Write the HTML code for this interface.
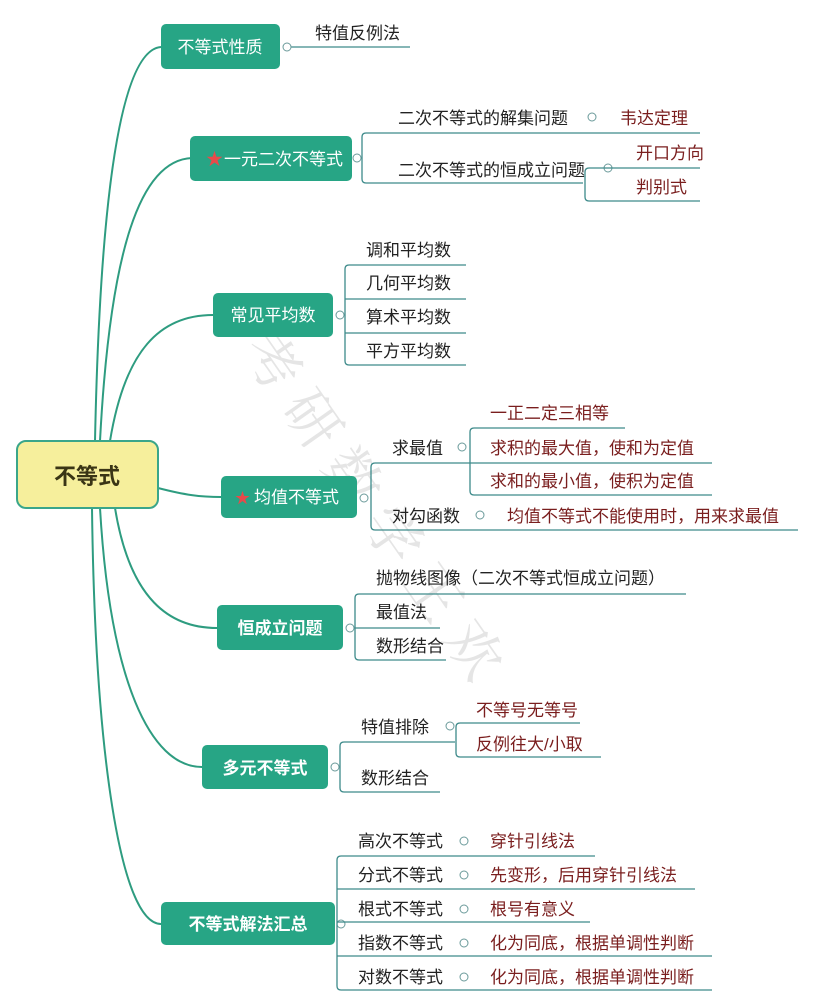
<!DOCTYPE html>
<html><head><meta charset="utf-8"><style>
body{margin:0;background:#fff}
svg{display:block}
text{font-family:"Liberation Sans","Noto Sans CJK SC",sans-serif;font-size:17px;fill:#222}
.w{fill:#fff}
.r{fill:#7a1e1e}
.b{font-weight:bold}
.l{stroke:#3d8a8a;stroke-width:1.3;fill:none}
.c{stroke:#2e9c80;stroke-width:2;fill:none}
.o{fill:#fff;stroke:#6a9a9a;stroke-width:1}
</style></head><body>
<svg width="816" height="1008" viewBox="0 0 816 1008">
<g opacity="0.5">
<text x="0" y="0" transform="translate(240,350) rotate(55)" style="font-size:56px;fill:#ccc;font-family:'Noto Serif CJK SC',serif">考 研 数 学 王 欢</text>
</g>
<path class="c" d="M95,441 C100,200 120,50 161,47"/>
<path class="c" d="M100,441 C110,250 140,160 192,158"/>
<path class="c" d="M110,441 C125,350 160,315 213,315"/>
<path class="c" d="M158,488 C185,495 200,497 221,497"/>
<path class="c" d="M115,508 C130,600 170,628 217,628"/>
<path class="c" d="M100,508 C110,680 150,767 202,767"/>
<path class="c" d="M92,508 C95,750 120,924 161,924"/>
<rect x="17" y="441" width="141" height="67" rx="9" fill="#f6ef9c" stroke="#3aa68a" stroke-width="2"/>
<text x="87" y="484" text-anchor="middle" class="b" style="font-size:22px;fill:#3a3515">不等式</text>

<rect x="161" y="24" width="119" height="45" rx="5" fill="#27a585"/>
<text x="220" y="53" text-anchor="middle" class="w">不等式性质</text>
<line class="l" x1="291" y1="47" x2="410" y2="47"/>
<circle class="o" cx="287" cy="47" r="4"/>
<text x="315" y="39">特值反例法</text>

<rect x="190" y="136" width="162" height="45" rx="5" fill="#27a585"/>
<text x="206" y="165" style="fill:#e84a4a">★</text>
<text x="224" y="165" class="w">一元二次不等式</text>
<circle class="o" cx="357" cy="158" r="4"/>
<path class="l" d="M700,133 H366 Q362,133 362,137 V179 Q362,183 366,183 H583"/>
<text x="398" y="124">二次不等式的解集问题</text>
<circle class="o" cx="592" cy="117" r="4"/>
<text x="620" y="124" class="r">韦达定理</text>
<text x="398" y="176">二次不等式的恒成立问题</text>
<circle class="o" cx="608" cy="168" r="4"/>
<path class="l" d="M700,168 H589 Q585,168 585,172 V197 Q585,201 589,201 H700"/>
<text x="636" y="159" class="r">开口方向</text>
<text x="636" y="193" class="r">判别式</text>

<rect x="213" y="293" width="120" height="44" rx="5" fill="#27a585"/>
<text x="273" y="321" text-anchor="middle" class="w">常见平均数</text>
<circle class="o" cx="340" cy="315" r="4"/>
<path class="l" d="M466,265 H349 Q345,265 345,269 V361 Q345,365 349,365 H466 M345,299 H466 M345,333 H466"/>
<text x="366" y="256">调和平均数</text>
<text x="366" y="289">几何平均数</text>
<text x="366" y="323">算术平均数</text>
<text x="366" y="357">平方平均数</text>

<rect x="221" y="476" width="136" height="42" rx="5" fill="#27a585"/>
<text x="235" y="503" style="fill:#e84a4a;font-size:15px">★</text>
<text x="254" y="503" class="w">均值不等式</text>
<circle class="o" cx="364" cy="498" r="4"/>
<path class="l" d="M470,463 H375 Q371,463 371,467 V526 Q371,530 375,530 H798"/>
<text x="392" y="454">求最值</text>
<circle class="o" cx="462" cy="447" r="4"/>
<path class="l" d="M625,428 H474 Q470,428 470,432 V491 Q470,495 474,495 H712 M470,463 H712"/>
<text x="490" y="419" class="r">一正二定三相等</text>
<text x="490" y="454" class="r">求积的最大值，使和为定值</text>
<text x="490" y="487" class="r">求和的最小值，使积为定值</text>
<text x="392" y="522">对勾函数</text>
<circle class="o" cx="480" cy="515" r="4"/>
<text x="507" y="522" class="r">均值不等式不能使用时，用来求最值</text>

<rect x="217" y="605" width="126" height="45" rx="5" fill="#27a585"/>
<text x="280" y="634" text-anchor="middle" class="w b">恒成立问题</text>
<circle class="o" cx="350" cy="628" r="4"/>
<path class="l" d="M686,594 H359 Q355,594 355,598 V656 Q355,660 359,660 H446 M355,628 H440"/>
<text x="376" y="584">抛物线图像（二次不等式恒成立问题）</text>
<text x="376" y="618">最值法</text>
<text x="376" y="652">数形结合</text>

<rect x="202" y="745" width="126" height="44" rx="5" fill="#27a585"/>
<text x="265" y="774" text-anchor="middle" class="w b">多元不等式</text>
<circle class="o" cx="335" cy="767" r="4"/>
<path class="l" d="M455,742 H344 Q340,742 340,746 V788 Q340,792 344,792 H440"/>
<text x="361" y="733">特值排除</text>
<circle class="o" cx="450" cy="726" r="4"/>
<path class="l" d="M580,723 H460 Q456,723 456,727 V753 Q456,757 460,757 H601"/>
<text x="476" y="716" class="r">不等号无等号</text>
<text x="476" y="750" class="r">反例往大/小取</text>
<text x="361" y="784">数形结合</text>

<rect x="161" y="902" width="174" height="43" rx="5" fill="#27a585"/>
<text x="248" y="930" text-anchor="middle" class="w b">不等式解法汇总</text>
<circle class="o" cx="341" cy="924" r="4"/>
<path class="l" d="M595,856 H341 Q337,856 337,860 V986 Q337,990 341,990 H712 M337,889 H695 M337,922 H590 M337,956 H712"/>
<text x="358" y="847">高次不等式</text>
<text x="358" y="881">分式不等式</text>
<text x="358" y="915">根式不等式</text>
<text x="358" y="949">指数不等式</text>
<text x="358" y="983">对数不等式</text>
<circle class="o" cx="464" cy="841" r="4"/>
<circle class="o" cx="464" cy="875" r="4"/>
<circle class="o" cx="464" cy="909" r="4"/>
<circle class="o" cx="464" cy="943" r="4"/>
<circle class="o" cx="464" cy="977" r="4"/>
<text x="490" y="847" class="r">穿针引线法</text>
<text x="490" y="881" class="r">先变形，后用穿针引线法</text>
<text x="490" y="915" class="r">根号有意义</text>
<text x="490" y="949" class="r">化为同底，根据单调性判断</text>
<text x="490" y="983" class="r">化为同底，根据单调性判断</text>
</svg>
</body></html>
